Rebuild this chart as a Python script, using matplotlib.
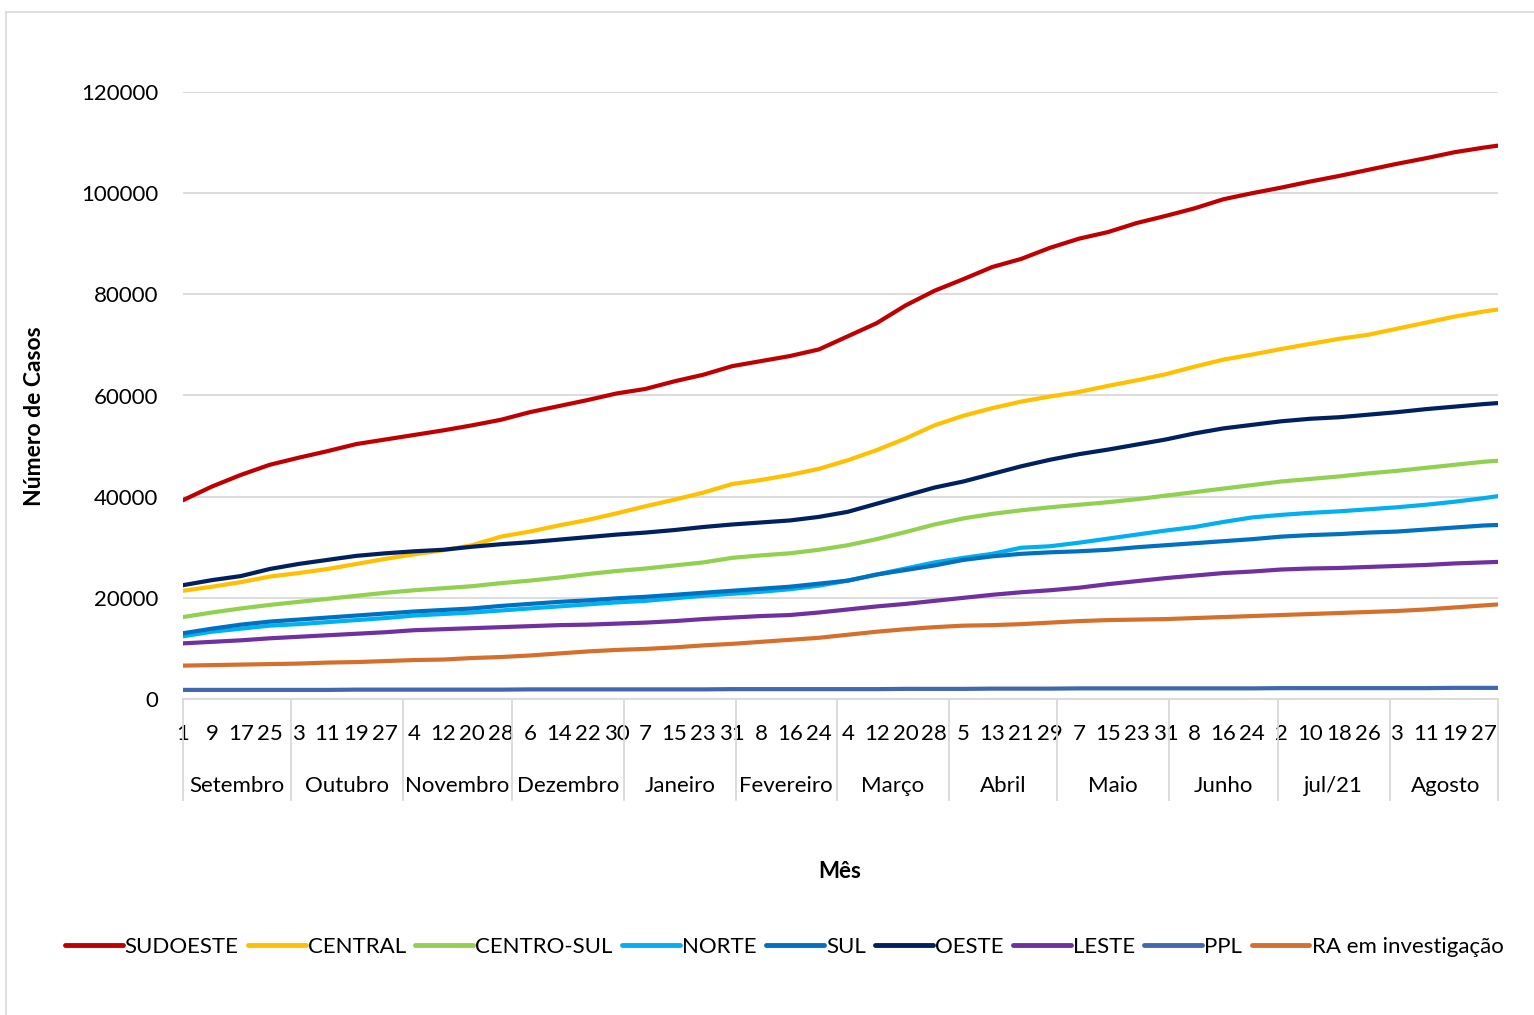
import matplotlib
matplotlib.use("Agg")
import matplotlib.pyplot as plt
from matplotlib.lines import Line2D
import matplotlib.transforms as mtransforms

days = [0, 8, 16, 24, 32, 40, 48, 56, 64, 72,
        80, 88, 96, 104, 112, 120, 128, 136, 144, 152,
        160, 168, 176, 184, 192, 200, 208, 216, 224, 232,
        240, 248, 256, 264, 272, 280, 288, 296, 304, 312,
        320, 328, 336, 344, 352, 360, 364]

sudoeste = [39300, 42000, 44300, 46300, 47700, 49000, 50400, 51300, 52200, 53100,
            54100, 55200, 56700, 57900, 59100, 60400, 61300, 62800, 64100, 65800,
            66800, 67800, 69100, 71700, 74300, 77800, 80700, 83000, 85400, 87000,
            89200, 91000, 92300, 94100, 95500, 97000, 98800, 100000, 101100, 102300,
            103400, 104600, 105800, 106900, 108100, 109000, 109400]
central = [21400, 22200, 23100, 24200, 24900, 25700, 26700, 27700, 28600, 29400,
           30400, 32100, 33100, 34300, 35400, 36700, 38100, 39400, 40800, 42500,
           43300, 44300, 45500, 47200, 49200, 51500, 54100, 56000, 57500, 58800,
           59800, 60700, 61900, 63000, 64200, 65700, 67100, 68100, 69200, 70200,
           71200, 72000, 73200, 74400, 75600, 76600, 77000]
centro_sul = [16200, 17100, 17900, 18600, 19200, 19800, 20400, 21000, 21500, 21900,
              22300, 22900, 23400, 24000, 24700, 25300, 25800, 26400, 27000, 27900,
              28400, 28800, 29500, 30400, 31600, 33000, 34500, 35700, 36600, 37300,
              37900, 38400, 38900, 39500, 40200, 40900, 41600, 42300, 43000, 43500,
              44000, 44600, 45100, 45700, 46300, 46900, 47100]
norte = [12400, 13300, 13900, 14500, 14800, 15200, 15600, 16000, 16500, 16800,
         17100, 17500, 17900, 18300, 18700, 19100, 19400, 19900, 20400, 20800,
         21200, 21700, 22400, 23400, 24600, 25800, 27000, 27900, 28700, 29900,
         30200, 30900, 31700, 32500, 33300, 34000, 35000, 35900, 36400, 36800,
         37100, 37500, 37900, 38400, 39000, 39700, 40100]
sul = [13000, 13900, 14700, 15300, 15700, 16100, 16500, 16900, 17300, 17600,
       17900, 18400, 18800, 19200, 19500, 19900, 20200, 20600, 21000, 21400,
       21800, 22200, 22800, 23400, 24600, 25500, 26400, 27500, 28200, 28700,
       29000, 29200, 29500, 30000, 30400, 30800, 31200, 31600, 32100, 32400,
       32600, 32900, 33100, 33500, 33900, 34300, 34400]
oeste = [22500, 23500, 24300, 25700, 26700, 27500, 28300, 28800, 29200, 29500,
         30100, 30600, 31000, 31500, 32000, 32500, 32900, 33400, 34000, 34500,
         34900, 35300, 36000, 37000, 38600, 40200, 41800, 43000, 44500, 46000,
         47300, 48400, 49300, 50300, 51300, 52500, 53500, 54200, 54900, 55400,
         55700, 56200, 56700, 57300, 57800, 58300, 58500]
leste = [11000, 11300, 11600, 12000, 12300, 12600, 12900, 13200, 13600, 13800,
         14000, 14200, 14400, 14600, 14700, 14900, 15100, 15400, 15800, 16100,
         16400, 16600, 17100, 17700, 18300, 18800, 19400, 20000, 20600, 21100,
         21500, 22000, 22700, 23300, 23900, 24400, 24900, 25200, 25600, 25800,
         25900, 26100, 26300, 26500, 26800, 27000, 27100]
ppl = [1800, 1800, 1800, 1800, 1800, 1800, 1850, 1850, 1850, 1850,
       1850, 1850, 1900, 1900, 1900, 1900, 1900, 1900, 1900, 1950,
       1950, 1950, 1950, 1950, 1950, 2000, 2000, 2000, 2050, 2050,
       2050, 2100, 2100, 2100, 2100, 2100, 2100, 2100, 2150, 2150,
       2150, 2150, 2150, 2150, 2200, 2200, 2200]
ra_invest = [6600, 6700, 6800, 6900, 7000, 7200, 7300, 7500, 7700, 7800,
             8100, 8300, 8600, 9000, 9400, 9700, 9900, 10200, 10600, 10900,
             11300, 11700, 12100, 12700, 13300, 13800, 14200, 14500, 14600, 14800,
             15100, 15400, 15600, 15700, 15800, 16000, 16200, 16400, 16600, 16800,
             17000, 17200, 17400, 17700, 18100, 18500, 18700]

series_names = ["SUDOESTE", "CENTRAL", "CENTRO-SUL", "NORTE", "SUL",
                "OESTE", "LESTE", "PPL", "RA em investigação"]
series_values = [sudoeste, central, centro_sul, norte, sul,
                 oeste, leste, ppl, ra_invest]
series_colors = ["#C00000", "#FFC000", "#92D050", "#00B0F0", "#0070C0",
                 "#002060", "#7030A0", "#4068B0", "#D4702C"]

# day-of-month labels, one every 8 days
day_labels = ["1", "9", "17", "25", "3", "11", "19", "27", "4", "12", "20", "28",
              "6", "14", "22", "30", "7", "15", "23", "31", "8", "16", "24",
              "4", "12", "20", "28", "5", "13", "21", "29", "7", "15", "23", "31",
              "8", "16", "24", "2", "10", "18", "26", "3", "11", "19", "27"]
months = ["Setembro", "Outubro", "Novembro", "Dezembro", "Janeiro", "Fevereiro",
          "Março", "Abril", "Maio", "Junho", "jul/21", "Agosto"]
month_days = [30, 31, 30, 31, 31, 28, 31, 30, 31, 30, 31, 31]

plt.rcParams['font.family'] = ['Lato', 'DejaVu Sans']

W, H = 1534, 1015
fig = plt.figure(figsize=(W / 100, H / 100), dpi=100)
ax = fig.add_axes([183 / W, 1 - 699 / H, (1498 - 183) / W, (699 - 92) / H])

for name, vals, col in zip(series_names, series_values, series_colors):
    ax.plot(days, vals, color=col, lw=3.0, label=name,
            solid_capstyle='round', solid_joinstyle='round')

last_day = sum(month_days) - 1
ax.set_xlim(0, last_day)
ax.set_ylim(0, 120000)
ax.set_yticks(range(0, 120001, 20000))
ax.tick_params(axis='y', length=0, pad=18, labelsize=16)
ax.grid(axis='y', color='#D9D9D9', lw=1.3)
ax.set_axisbelow(True)
for s in ax.spines.values():
    s.set_visible(False)

ax.set_xticks(list(range(0, last_day, 8)))
ax.set_xticklabels(day_labels)
ax.tick_params(axis='x', length=0, pad=18, labelsize=16)

# category axis: baseline, month separators and month names
trans = mtransforms.blended_transform_factory(ax.transData, ax.transAxes)
ax.plot([0, last_day], [0, 0], transform=trans, color='#D9D9D9', lw=1.3, clip_on=False)
start = 0
for m, n in zip(months, month_days):
    ax.plot([start, start], [0, -0.166], transform=trans, color='#D9D9D9',
            lw=1.3, clip_on=False)
    ax.text(start + n / 2, -0.143, m, transform=trans, ha='center', va='center',
            fontsize=16)
    start += n
ax.plot([last_day, last_day], [0, -0.166], transform=trans, color='#D9D9D9',
        lw=1.3, clip_on=False)

fig.text(35 / W, 1 - 416 / H, "Número de Casos", rotation=90, ha='center',
         va='center', fontsize=16.5, fontweight='bold')
fig.text(840 / W, 1 - 872 / H, "Mês", ha='center', va='center',
         fontsize=16, fontweight='bold')

handles = [Line2D([0], [0], color=c, lw=3.5, solid_capstyle='round')
           for c in series_colors]
fig.legend(handles, series_names, loc='center', bbox_to_anchor=(784 / W, 1 - 947 / H),
           ncol=9, frameon=False, fontsize=16, handlelength=2.6,
           handletextpad=0.1, columnspacing=0.42)

# light chart border
fig.add_artist(Line2D([6 / W, 6 / W], [0, 1 - 12 / H], color='#D9D9D9', lw=1.2))
fig.add_artist(Line2D([6 / W, 1], [1 - 12 / H, 1 - 12 / H], color='#D9D9D9', lw=1.2))

fig.savefig("out.png", dpi=100)
